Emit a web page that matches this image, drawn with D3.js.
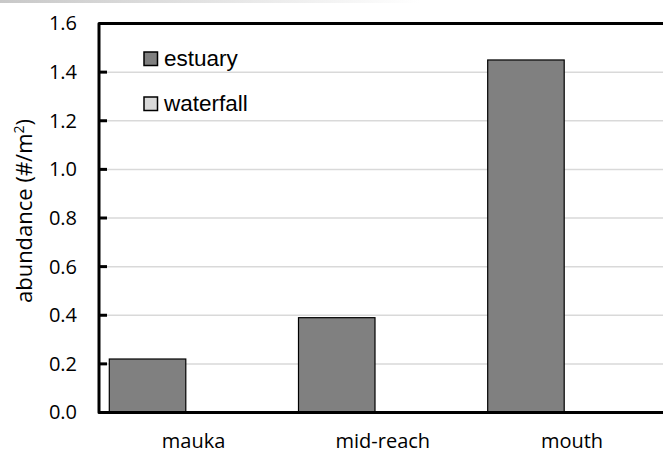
<!DOCTYPE html>
<html><head><meta charset="utf-8">
<script src="https://cdn.jsdelivr.net/npm/d3@7"></script>
<style>html,body{margin:0;padding:0;background:#fff;overflow:hidden}</style>
</head><body>
<svg id="c" width="663" height="455"></svg>
<script>
const categories = ["mauka", "mid-reach", "mouth"];
const seriesNames = ["estuary", "waterfall"];
const estuary = [0.22, 0.39, 1.45];
const waterfall = [0, 0, 0];
const yTicks = [0, 0.2, 0.4, 0.6, 0.8, 1.0, 1.2, 1.4, 1.6];
const colors = ["#808080", "#d9d9d9"];

(function () {
const svg = d3.select("#c");
const pL = 99, pR = 666.6, pT = 23.5, pB = 412.5;
const fontA = "'Open Sans', Lato, sans-serif";

const grad = svg.append("defs").append("linearGradient").attr("id","g").attr("x1","0").attr("x2","1");
grad.append("stop").attr("offset","0").attr("stop-color","#c8c8c8");
grad.append("stop").attr("offset","1").attr("stop-color","#ffffff");
svg.append("rect").attr("x",0).attr("y",0).attr("width",420).attr("height",3).attr("fill","url(#g)");

const y = d3.scaleLinear().domain([0, 1.6]).range([pB, pT]);
const x = d3.scaleBand().domain(categories).range([pL, pR]).padding(0);
const xs = d3.scaleBand().domain(seriesNames).range([10.3, 10.3 + 2 * 76.5]).padding(0);

svg.append("g").selectAll("line").data(yTicks.filter(t => t > 0 && t < 1.6)).join("line")
  .attr("x1", pL).attr("x2", 663).attr("y1", d => y(d)).attr("y2", d => y(d))
  .attr("stroke", "#d9d9d9").attr("stroke-width", 1.5);

const data = [estuary, waterfall];
seriesNames.forEach((s, si) => {
  svg.append("g").selectAll("rect").data(categories).join("rect")
    .attr("x", c => x(c) + xs(s))
    .attr("width", xs.bandwidth())
    .attr("y", (c, i) => y(data[si][i]))
    .attr("height", (c, i) => y(0) - y(data[si][i]))
    .attr("fill", colors[si]).attr("stroke", "#000").attr("stroke-width", 1.2)
    .style("display", (c, i) => data[si][i] > 0 ? null : "none");
});

const yAxis = d3.axisLeft(y).tickValues(yTicks).tickFormat(d3.format(".1f")).tickSize(0).tickPadding(22);
const ga = svg.append("g").attr("transform", `translate(${pL},0)`).call(yAxis);
ga.select(".domain").remove();
ga.selectAll("text").attr("font-family", fontA).attr("font-size", 20).attr("fill", "#000");

svg.append("g").selectAll("line").data(yTicks).join("line")
  .attr("x1", pL).attr("x2", pL + 8).attr("y1", d => y(d)).attr("y2", d => y(d))
  .attr("stroke", "#000").attr("stroke-width", 3);

const xAxis = d3.axisBottom(x).tickSize(0).tickPadding(21);
const gx = svg.append("g").attr("transform", `translate(0,${pB})`).call(xAxis);
gx.select(".domain").remove();
gx.selectAll("text").attr("font-family", fontA).attr("font-size", 20).attr("fill", "#000");

svg.append("path").attr("d", `M663,${pT}H${pL}V${pB}H663`)
  .attr("fill", "none").attr("stroke", "#000").attr("stroke-width", 3).attr("stroke-linejoin", "round");

svg.append("text").attr("transform", "translate(32,211) rotate(-90)")
  .attr("text-anchor", "middle").attr("font-family", fontA).attr("font-size", 22)
  .html('abundance (#/m<tspan dy="-8" font-size="14">2</tspan><tspan dy="8">)</tspan>');

const lg = svg.append("g").attr("font-family", "'Liberation Sans', Arial, sans-serif").attr("font-size", 22.5);
seriesNames.forEach((s, i) => {
  const ly = 58.5 + i * 45;
  lg.append("rect").attr("x", 144).attr("y", ly - 6.5).attr("width", 13.5).attr("height", 13.5)
    .attr("fill", colors[i]).attr("stroke", "#000").attr("stroke-width", 1.5);
  lg.append("text").attr("x", 164).attr("y", ly + 7.5).text(s);
});
})();
</script>
</body></html>
